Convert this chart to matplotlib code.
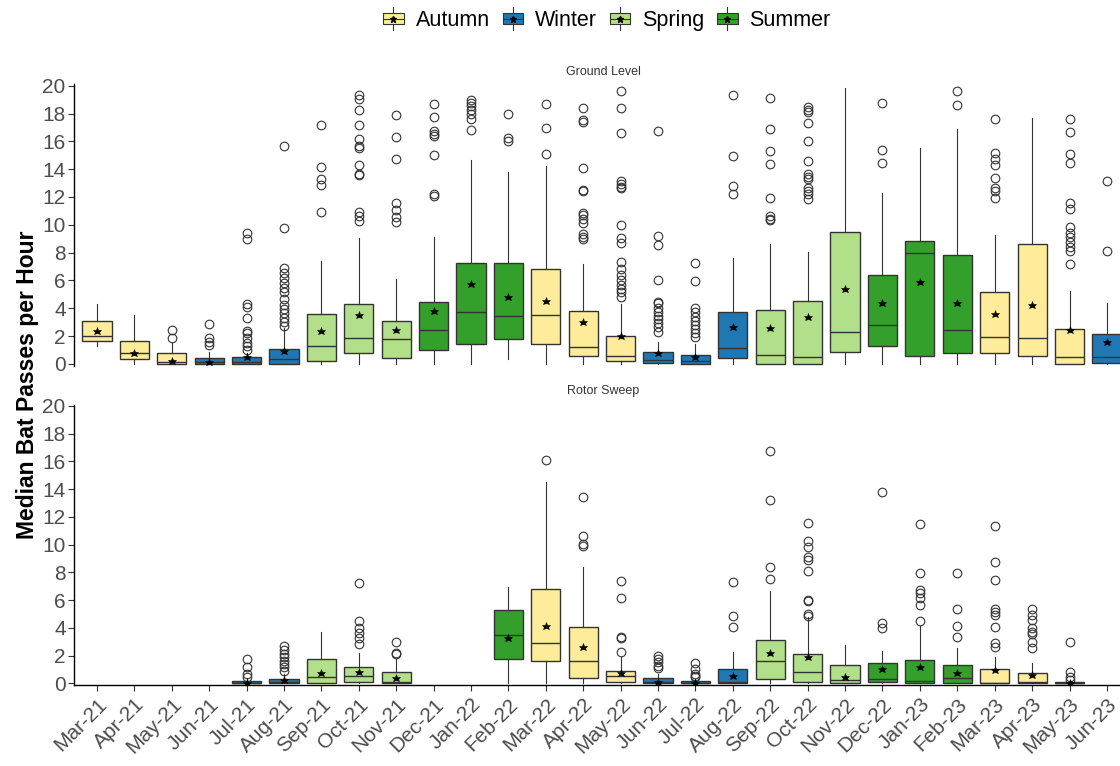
import numpy as np
import matplotlib
matplotlib.use("Agg")
import matplotlib.pyplot as plt
from matplotlib.patches import Rectangle
from matplotlib.lines import Line2D
from matplotlib.legend_handler import HandlerBase

plt.rcParams['font.family'] = ['Liberation Sans', 'DejaVu Sans']

months = ["Mar-21", "Apr-21", "May-21", "Jun-21", "Jul-21", "Aug-21", "Sep-21", "Oct-21",
          "Nov-21", "Dec-21", "Jan-22", "Feb-22", "Mar-22", "Apr-22", "May-22", "Jun-22",
          "Jul-22", "Aug-22", "Sep-22", "Oct-22", "Nov-22", "Dec-22", "Jan-23", "Feb-23",
          "Mar-23", "Apr-23", "May-23", "Jun-23"]
season_of_month = {"Mar": "Autumn", "Apr": "Autumn", "May": "Autumn",
                   "Jun": "Winter", "Jul": "Winter", "Aug": "Winter",
                   "Sep": "Spring", "Oct": "Spring", "Nov": "Spring",
                   "Dec": "Summer", "Jan": "Summer", "Feb": "Summer"}
seasons = ["Autumn", "Winter", "Spring", "Summer"]
season_colors = {"Autumn": "#FFEC9B", "Winter": "#1F78B4", "Spring": "#B2DF8A", "Summer": "#33A02C"}

nan = np.nan
# ---------------- Ground Level ----------------
gl_lo = [1.32, 0, 0, 0, 0, 0, 0, 0, 0, 0, 0, 0.33, 0, 0, 0, 0, 0, 0, 0, 0, 0, 0, 0, 0, 0, 0, 0, 0]
gl_q1 = [1.67, 0.33, 0, 0, 0, 0, 0.24, 0.81, 0.41, 1.0, 1.41, 1.77, 1.41, 0.57, 0.22, 0.05, 0,
         0.41, 0, 0, 0.84, 1.29, 0.6, 0.77, 0.77, 0.6, 0, 0.1]
gl_med = [2.0, 0.77, 0.17, 0.17, 0.17, 0.33, 1.29, 1.84, 1.77, 2.44, 3.71, 3.44, 3.54, 1.2, 0.6,
          0.29, 0.24, 1.12, 0.65, 0.53, 2.27, 2.8, 7.94, 2.44, 1.96, 1.84, 0.53, 0.53]
gl_q3 = [3.11, 1.67, 0.77, 0.41, 0.53, 1.05, 3.59, 4.28, 3.11, 4.47, 7.27, 7.27, 6.82, 3.8, 2.01,
         0.84, 0.65, 3.71, 3.88, 4.55, 9.45, 6.39, 8.85, 7.82, 5.14, 8.61, 2.51, 2.15]
gl_hi = [4.28, 3.52, 1.48, 0.89, 0.77, 2.56, 7.42, 9.02, 6.08, 9.09, 14.64, 13.76, 14.21, 7.18,
         4.28, 1.6, 1.41, 7.58, 8.61, 8.01, 19.86, 12.32, 15.53, 16.87, 9.26, 17.7, 5.24, 4.35]
gl_mean = [2.39, 0.81, 0.22, 0.17, 0.48, 0.96, 2.39, 3.52, 2.44, 3.83, 5.72, 4.83, 4.55, 3.04,
           2.01, 0.77, 0.53, 2.63, 2.61, 3.4, 5.36, 4.35, 5.91, 4.35, 3.59, 4.23, 2.44, 1.6]
gl_fliers = [
    [], [], [2.44, 1.84], [2.85, 1.84, 1.6, 1.36],
    [9.38, 8.97, 4.33, 4.07, 3.28, 2.39, 2.25, 1.84, 1.53, 1.32, 1.0],
    [15.7, 9.78, 6.87, 6.5, 6.15, 5.84, 5.48, 5.19, 4.67, 4.23, 3.92, 3.64, 3.28, 2.99, 2.75],
    [17.15, 14.16, 13.28, 12.85, 10.89],
    [19.3, 19.07, 18.28, 17.15, 16.2, 15.65, 15.55, 14.28, 13.68, 13.56, 10.93, 10.65, 10.26],
    [17.87, 16.32, 14.71, 11.58, 11.1, 10.57, 10.17],
    [18.7, 17.75, 16.75, 16.5, 16.36, 15.05, 12.18, 12.08],
    [19.0, 18.78, 18.52, 18.23, 17.99, 17.63, 16.84],
    [17.94, 16.24, 16.0],
    [18.7, 16.99, 15.12],
    [18.42, 17.56, 17.39, 14.11, 12.49, 12.42, 10.86, 10.69, 10.41, 10.1, 9.33, 9.14, 8.97],
    [19.62, 18.42, 16.6, 13.13, 12.92, 12.73, 12.61, 9.98, 9.02, 8.71, 7.3, 6.79, 6.39, 6.03,
     5.67, 5.38, 5.14, 4.83],
    [16.75, 9.21, 8.54, 6.03, 4.47, 4.35, 4.0, 3.71, 3.44, 3.21, 2.92, 2.68, 2.32],
    [7.27, 5.98, 4.0, 3.76, 3.4, 3.11, 2.8, 2.49, 2.2, 1.91],
    [19.3, 14.95, 12.78, 12.18],
    [19.11, 16.91, 15.31, 14.35, 11.94, 10.62, 10.45, 10.33],
    [18.47, 18.28, 18.11, 17.34, 16.0, 14.57, 13.64, 13.44, 13.28, 12.66, 12.42, 12.18, 11.89],
    [],
    [18.78, 15.41, 14.47],
    [],
    [19.62, 18.59],
    [17.58, 15.19, 14.71, 14.28, 13.37, 12.66, 12.42, 11.94],
    [],
    [17.58, 16.67, 15.12, 14.47, 11.58, 11.17, 9.86, 9.38, 9.14, 8.78, 8.42, 8.13, 7.18],
    [13.13, 8.11],
]

# ---------------- Rotor Sweep ----------------
rs_lo = [nan, nan, nan, nan, 0, 0, 0, 0, 0, nan, nan, 0, 0, 0, 0, 0, 0, 0, 0, 0, 0, 0, 0, 0, 0, 0, 0, nan]
rs_q1 = [nan, nan, nan, nan, 0, 0, 0, 0.07, 0, nan, nan, 1.75, 1.61, 0.41, 0.12, 0, 0, 0, 0.29,
         0.12, 0, 0.07, 0, 0, 0, 0, 0, nan]
rs_med = [nan, nan, nan, nan, 0.05, 0.07, 0.43, 0.53, 0.12, nan, nan, 3.46, 2.88, 1.61, 0.53,
          0.07, 0.05, 0.12, 1.61, 0.84, 0.24, 0.31, 0.19, 0.41, 0.05, 0.07, 0.02, nan]
rs_q3 = [nan, nan, nan, nan, 0.17, 0.31, 1.75, 1.15, 0.84, nan, nan, 5.29, 6.78, 4.04, 0.91,
         0.41, 0.17, 1.01, 3.13, 2.12, 1.32, 1.44, 1.68, 1.32, 1.01, 0.72, 0.07, nan]
rs_hi = [nan, nan, nan, nan, 0.36, 0.67, 3.68, 2.16, 1.73, nan, nan, 6.92, 14.5, 8.37, 1.88,
         0.67, 0.29, 2.24, 6.68, 4.8, 2.76, 2.33, 4.1, 2.52, 1.92, 1.49, 0.15, nan]
rs_mean = [nan, nan, nan, nan, 0.05, 0.24, 0.72, 0.79, 0.36, nan, nan, 3.29, 4.16, 2.64, 0.72,
           0.07, 0.0, 0.53, 2.21, 1.88, 0.48, 1.01, 1.2, 0.72, 0.96, 0.6, 0.05, nan]
rs_fliers = [
    [], [], [], [],
    [1.75, 1.15, 0.67, 0.43],
    [2.69, 2.4, 2.12, 1.88, 1.63, 1.39, 1.15, 0.91],
    [],
    [7.21, 4.5, 3.97, 3.61, 3.29, 2.84],
    [2.96, 2.21, 2.09],
    [], [],
    [],
    [16.1],
    [13.41, 10.65, 10.05, 9.93],
    [7.38, 6.18, 3.37, 3.25, 2.28],
    [2.0, 1.75, 1.51, 1.25, 1.08],
    [1.49, 1.01, 0.67, 0.53, 0.43],
    [7.28, 4.88, 4.04],
    [16.78, 13.22, 8.37, 7.52],
    [11.54, 10.29, 9.86, 9.13, 8.89, 8.08, 6.0, 5.94, 4.98, 4.88],
    [],
    [13.82, 4.33, 3.97],
    [11.47, 7.98, 6.73, 6.49, 6.13, 5.65, 4.5],
    [7.98, 5.34, 4.13, 3.37],
    [11.37, 8.73, 7.45, 5.36, 5.17, 4.93, 4.04, 2.88, 2.64],
    [5.36, 4.93, 4.57, 3.97, 3.73, 3.53, 3.0, 2.52],
    [2.96, 0.84, 0.48, 0.24],
    [],
]

EDGE = "#333333"
W, H = 1120, 766
fig = plt.figure(figsize=(W / 100, H / 100), dpi=100)

ax_top = fig.add_axes([74 / W, 1 - 366 / H, (W - 74) / W, (366 - 84.3) / H])
ax_bot = fig.add_axes([74 / W, 1 - 685 / H, (W - 74) / W, (685 - 404.6) / H])


def draw_panel(ax, lo, q1, med, q3, hi, mean, fliers):
    stats, pos, cols = [], [], []
    for i, m in enumerate(months):
        if np.isnan(med[i]):
            continue
        stats.append(dict(med=med[i], q1=q1[i], q3=q3[i], whislo=lo[i], whishi=hi[i],
                          fliers=fliers[i]))
        pos.append(i)
        cols.append(season_colors[season_of_month[m[:3]]])
    bp = ax.bxp(stats, positions=pos, widths=0.78, patch_artist=True, showcaps=False,
                boxprops=dict(edgecolor=EDGE, linewidth=1.0),
                whiskerprops=dict(color=EDGE, linewidth=0.8),
                medianprops=dict(color=EDGE, linewidth=1.0),
                flierprops=dict(marker='o', markerfacecolor='none', markeredgecolor=EDGE,
                                markersize=6.2, markeredgewidth=0.8))
    for patch, c in zip(bp['boxes'], cols):
        patch.set_facecolor(c)
    means = [mean[i] for i in pos]
    ax.plot(pos, means, linestyle='none', marker='*', color='black', markersize=6.2,
            markeredgewidth=0.4, zorder=5)
    ax.set_xlim(-0.615, 27.35)
    ax.set_yticks(np.arange(0, 21, 2))
    ax.tick_params(axis='y', labelsize=15, colors='#4D4D4D', length=4, width=0.8, pad=2)
    for s in ['top', 'right']:
        ax.spines[s].set_visible(False)
    ax.spines['left'].set_linewidth(1.0)


draw_panel(ax_top, gl_lo, gl_q1, gl_med, gl_q3, gl_hi, gl_mean, gl_fliers)
draw_panel(ax_bot, rs_lo, rs_q1, rs_med, rs_q3, rs_hi, rs_mean, rs_fliers)

ax_top.set_ylim(-0.15, 20.1)
ax_bot.set_ylim(-0.12, 20.1)
ax_top.spines['bottom'].set_visible(False)
ax_top.set_xticks([])
ax_bot.set_xticks(range(len(months)))
ax_bot.set_xticklabels(months, rotation=45, ha='right', rotation_mode='anchor')
ax_bot.tick_params(axis='x', labelsize=15, colors='#4D4D4D', length=4, width=0.8, pad=3)
ax_bot.spines['bottom'].set_linewidth(1.0)
for lab in ax_top.get_yticklabels() + ax_bot.get_yticklabels() + ax_bot.get_xticklabels():
    lab.set_color('#4D4D4D')
ax_top.tick_params(axis='y', color='#333333')
ax_bot.tick_params(axis='both', color='#333333')

fig.text(603 / W, 1 - 72 / H, "Ground Level", ha='center', va='center', fontsize=9, color='#333333')
fig.text(603 / W, 1 - 391 / H, "Rotor Sweep", ha='center', va='center', fontsize=9, color='#333333')
fig.text(28 / W, 1 - 385 / H, "Median Bat Passes per Hour", rotation=90, ha='center', va='center',
         fontsize=16.5, fontweight='bold', color='black')


class BoxHandler(HandlerBase):
    def create_artists(self, legend, orig_handle, xdescent, ydescent, width, height, fontsize, trans):
        x0, y0 = -xdescent, -ydescent
        c = orig_handle.get_facecolor()
        vline = Line2D([x0 + width / 2] * 2, [y0 - 0.35 * height, y0 + 1.35 * height],
                       color=EDGE, lw=0.8, transform=trans)
        rect = Rectangle((x0, y0 + 0.1 * height), width, 0.8 * height, facecolor=c,
                         edgecolor=EDGE, lw=0.8, transform=trans)
        medl = Line2D([x0, x0 + width], [y0 + 0.5 * height] * 2, color=EDGE, lw=0.8, transform=trans)
        star = Line2D([x0 + width / 2], [y0 + 0.45 * height], marker='*', markersize=4.5,
                      color='black', linestyle='none', transform=trans)
        return [vline, rect, medl, star]


handles = [Rectangle((0, 0), 1, 1, facecolor=season_colors[s]) for s in seasons]
fig.legend(handles, seasons, loc='upper center', bbox_to_anchor=(607 / W, 1.012), ncol=4,
           frameon=False, fontsize=15.5, handler_map={Rectangle: BoxHandler()},
           handlelength=0.95, handleheight=0.6, handletextpad=0.55, columnspacing=0.6)

fig.savefig("out.png", dpi=100)
